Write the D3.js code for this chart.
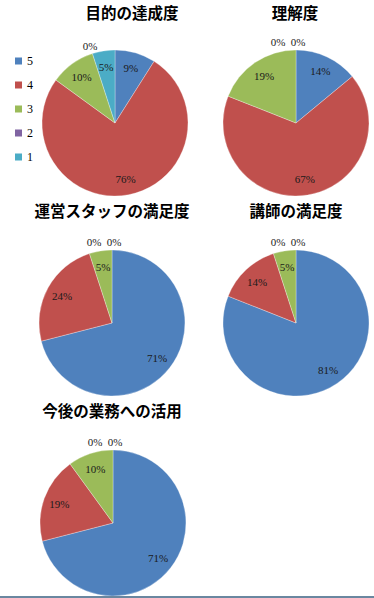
<!DOCTYPE html>
<html>
<head>
<meta charset="utf-8">
<script src="https://cdn.jsdelivr.net/npm/d3@7"></script>
<style>
  html, body { margin: 0; padding: 0; background: #fff; }
  svg { display: block; }
</style>
</head>
<body>
<svg id="chart"></svg>
<script>
// categories (rating 5..1) and their colours
const categories = ['5', '4', '3', '2', '1'];
const colors = ['#4F81BD', '#C0504D', '#9BBB59', '#8064A2', '#4BACC6'];

// chart titles
const titles = ['目的の達成度', '理解度', '運営スタッフの満足度', '講師の満足度', '今後の業務への活用'];

// percentages per chart, in category order 5,4,3,2,1
const achievement = [9, 76, 10, 0, 5];
const understanding = [14, 67, 19, 0, 0];
const staffSatisfaction = [71, 24, 5, 0, 0];
const lecturerSatisfaction = [81, 14, 5, 0, 0];
const futureUse = [71, 19, 10, 0, 0];

const series = [achievement, understanding, staffSatisfaction, lecturerSatisfaction, futureUse];

const width = 374;
const height = 598;
const radius = 73;

// panel layout: pie centre and title position (baseline)
const panels = [
  { cx: 115, cy: 123, tx: 132, ty: 18.5 },
  { cx: 296, cy: 123, tx: 295, ty: 18.5 },
  { cx: 112, cy: 323, tx: 112, ty: 217 },
  { cx: 296, cy: 323, tx: 296, ty: 217 },
  { cx: 113, cy: 523, tx: 112, ty: 417 }
];

const svg = d3.select('#chart')
  .attr('width', width)
  .attr('height', height);

const pie = d3.pie().sort(null).value(d => d.value);
const arc = d3.arc().innerRadius(0).outerRadius(radius);
const labelArc = d3.arc().innerRadius(radius * 0.78).outerRadius(radius * 0.78);
const zeroArc = d3.arc().innerRadius(radius + 8).outerRadius(radius + 8);

series.forEach((values, i) => {
  const p = panels[i];
  const data = values.map((v, j) => ({ value: v, cat: categories[j], color: colors[j] }));
  const arcs = pie(data);

  svg.append('text')
    .attr('x', p.tx)
    .attr('y', p.ty)
    .attr('text-anchor', 'middle')
    .attr('font-family', '"Noto Sans CJK JP", sans-serif')
    .attr('font-weight', 'bold')
    .attr('font-size', 15.5)
    .attr('fill', '#000')
    .text(titles[i]);

  const g = svg.append('g')
    .attr('transform', `translate(${p.cx}, ${p.cy})`);

  g.selectAll('path')
    .data(arcs.filter(d => d.data.value > 0))
    .enter()
    .append('path')
    .attr('d', arc)
    .attr('fill', d => d.data.color)
    .attr('stroke', '#fff')
    .attr('stroke-width', 0.5)
    .attr('stroke-opacity', 0.6);

  // labels: zero slices go outside, side by side when they share the same angle
  const zeros = arcs.filter(d => d.data.value === 0);
  arcs.forEach(d => {
    let x, y;
    if (d.data.value > 0) {
      [x, y] = labelArc.centroid(d);
    } else {
      [x, y] = zeroArc.centroid(d);
      const k = zeros.indexOf(d);
      const n = zeros.length;
      if (n > 1) x += 2 - 20 * (n - 1 - k);
    }
    g.append('text')
      .attr('x', x)
      .attr('y', y)
      .attr('text-anchor', 'middle')
      .attr('dominant-baseline', 'central')
      .attr('font-family', '"Liberation Serif", serif')
      .attr('font-size', 11)
      .attr('fill', '#1a1a1a')
      .text(d.data.value + '%');
  });
});

// legend for the first chart
const legend = svg.append('g');
const ly = d3.scalePoint().domain(categories).range([61, 157]);
categories.forEach((c, j) => {
  legend.append('rect')
    .attr('x', 15)
    .attr('y', ly(c) - 3.5)
    .attr('width', 7)
    .attr('height', 7)
    .attr('fill', colors[j]);
  legend.append('text')
    .attr('x', 27)
    .attr('y', ly(c))
    .attr('dominant-baseline', 'central')
    .attr('font-family', '"Liberation Serif", serif')
    .attr('font-size', 12)
    .attr('fill', '#000')
    .text(c);
});

// frame line at the bottom
svg.append('rect')
  .attr('x', 0)
  .attr('y', 596)
  .attr('width', width)
  .attr('height', 2)
  .attr('fill', '#6A87A0');
</script>
</body>
</html>
